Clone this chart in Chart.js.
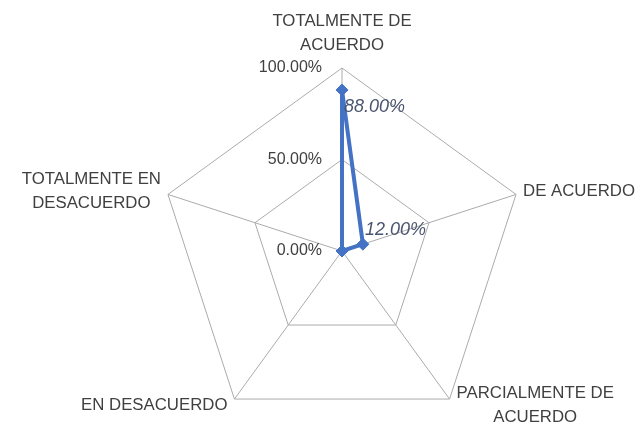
<!DOCTYPE html>
<html>
<head>
<meta charset="utf-8">
<script src="https://cdn.jsdelivr.net/npm/chart.js@4.4.0/dist/chart.umd.min.js"></script>
<style>
  html, body { margin: 0; padding: 0; background: #ffffff; overflow: hidden; }
  canvas { display: block; }
</style>
</head>
<body>
<!-- canvas a bit taller than the window: the bottom of the pentagon sits almost on the edge -->
<canvas id="myRadar" width="636" height="434"></canvas>
<script>
// data
const categories = [
  ['TOTALMENTE DE', 'ACUERDO'],
  'DE ACUERDO',
  ['PARCIALMENTE DE', 'ACUERDO'],
  'EN DESACUERDO',
  ['TOTALMENTE EN', 'DESACUERDO']
];
const percentValues = [88, 12, 0, 0, 0];
const tickValues = [0, 50, 100];
const tickLabels = ['0.00%', '50.00%', '100.00%'];

const FONT = '"Liberation Sans", Arial, sans-serif';
const TEXT_COLOR = '#404040';

// excel-like text: tick labels left of the top axis, category labels
// with centred lines, and the italic value labels
const excelText = {
  id: 'excelText',
  afterDraw(chart) {
    const ctx = chart.ctx;
    const scale = chart.scales.r;
    ctx.save();

    // tick labels
    ctx.font = '16px ' + FONT;
    ctx.fillStyle = TEXT_COLOR;
    ctx.textAlign = 'right';
    ctx.textBaseline = 'middle';
    tickValues.forEach(function(v, i) {
      const p = scale.getPointPositionForValue(0, v);
      ctx.fillText(tickLabels[i], p.x - 20, p.y);
    });

    // category labels
    ctx.font = '16.8px ' + FONT;
    ctx.textAlign = 'center';
    const lineH = 24;
    const gap = 7;
    categories.forEach(function(cat, i) {
      const lines = Array.isArray(cat) ? cat : [cat];
      const w = Math.max.apply(null, lines.map(function(l) { return ctx.measureText(l).width; }));
      const p = scale.getPointPosition(i, scale.drawingArea);
      const dx = p.x - scale.xCenter;
      const dy = p.y - scale.yCenter;
      let cx, top;
      if (Math.abs(dx) < 1) {
        cx = p.x;
        top = p.y - 11 - lines.length * lineH;
      } else {
        cx = dx > 0 ? p.x + gap + w / 2 : p.x - gap - w / 2;
        const mid = dy < 0 ? p.y - 3 : p.y + 6;
        top = mid - lines.length * lineH / 2;
      }
      lines.forEach(function(l, k) {
        ctx.fillText(l, cx, top + lineH * k + lineH / 2);
      });
    });

    // value labels (zeros are not labelled)
    ctx.font = 'italic 18px ' + FONT;
    ctx.fillStyle = '#4a5670';
    ctx.textAlign = 'left';
    const meta = chart.getDatasetMeta(0);
    meta.data.forEach(function(pt, i) {
      const v = percentValues[i];
      if (!v) return;
      const offY = i === 0 ? 17 : -14;
      ctx.fillText(v.toFixed(2) + '%', pt.x + 2, pt.y + offY);
    });

    ctx.restore();
  }
};

const data = {
  labels: categories,
  datasets: [{
    label: 'Respuestas',
    data: percentValues,
    borderColor: '#4472c4',
    backgroundColor: '#4472c4',
    borderWidth: 4,
    fill: false,
    pointStyle: 'rectRot',
    pointRadius: 6,
    pointBackgroundColor: '#4472c4',
    pointBorderColor: '#4472c4',
    pointBorderWidth: 1
  }]
};

const config = {
  type: 'radar',
  data: data,
  options: {
    responsive: false,
    animation: false,
    devicePixelRatio: 1,
    layout: {
      padding: { top: 68, bottom: 0, left: 48, right: 0 }
    },
    plugins: {
      legend: { display: false },
      tooltip: { enabled: false }
    },
    scales: {
      r: {
        min: 0,
        max: 100,
        ticks: { display: false, stepSize: 50 },
        pointLabels: { display: false },
        grid: { color: '#ababab', lineWidth: 1 },
        angleLines: { color: '#ababab', lineWidth: 1 }
      }
    }
  },
  plugins: [excelText]
};

const myRadar = new Chart(document.getElementById('myRadar'), config);
</script>
</body>
</html>
